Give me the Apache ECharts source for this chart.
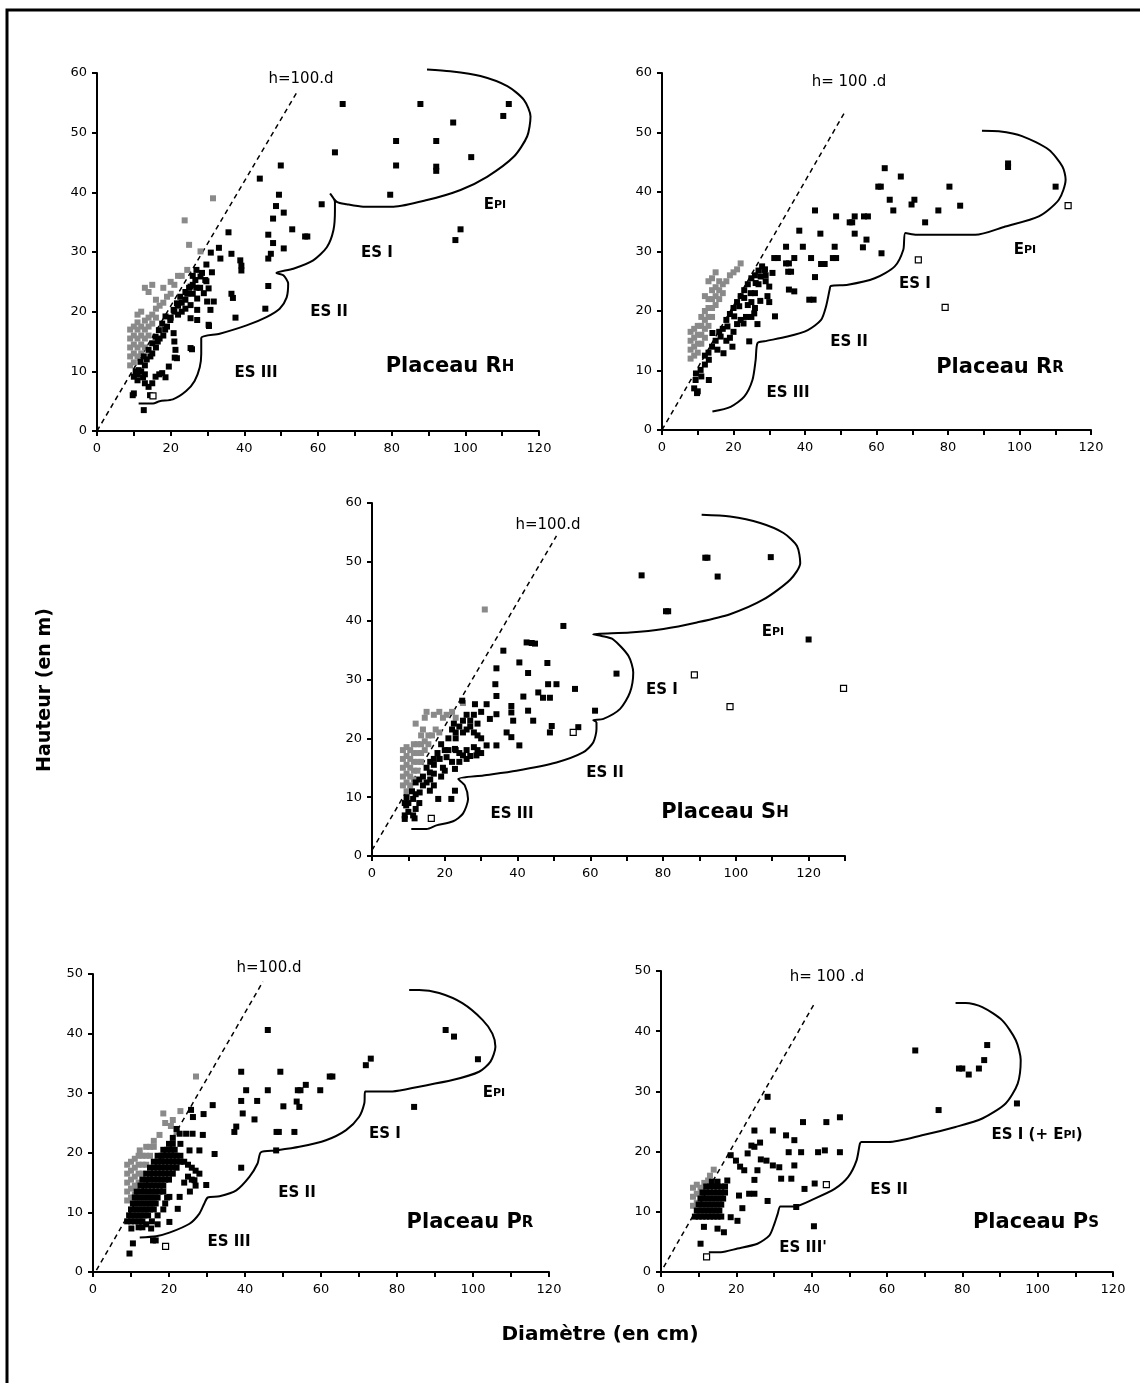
<!DOCTYPE html>
<html>
<head>
<meta charset="utf-8">
<script src="https://cdn.jsdelivr.net/npm/echarts@6/dist/echarts.min.js"></script>
<style>
  html, body { margin: 0; padding: 0; background: #fff; }
  #main { width: 1140px; height: 1383px; }
</style>
</head>
<body>
<div id="main"></div>
<script>
// --- Placeau RH ---
var rhBlack = [[66.7,54.8],[87.8,54.8],[111.8,54.8],[110.3,52.8],[96.7,51.7],[81.2,48.6],[92.1,48.6],[81.2,44.5],[92.1,44.3],[92.1,43.6],[101.6,45.9],[64.6,46.7],[49.9,44.5],[44.2,42.3],[79.6,39.6],[98.7,33.8],[97.3,32.0],[61.0,38.0],[49.4,39.6],[48.6,37.7],[50.7,36.6],[47.8,35.6],[53.0,33.8],[57.1,32.6],[56.5,32.6],[46.5,32.9],[47.8,31.5],[50.7,30.6],[47.2,29.7],[46.5,28.9],[46.5,24.3],[45.7,20.5],[35.7,33.3],[33.1,30.7],[33.5,28.9],[36.5,29.7],[38.9,28.6],[39.2,26.9],[39.2,27.7],[29.7,27.9],[30.9,29.9],[31.2,26.6],[29.7,25.1],[36.5,23.0],[36.9,22.3],[37.6,19.0],[30.4,17.6],[25.8,13.7],[21.1,12.3],
  [10.0,9.1],[11.3,10.2],[11.8,11.6],[12.7,12.5],[14.0,13.6],[15.0,14.7],[15.9,15.8],[16.8,16.9],[17.7,18.0],[18.6,19.2],[19.9,18.6],[20.8,20.3],[21.7,21.4],[22.6,22.5],[24.0,23.3],[25.4,24.2],[26.7,25.3],[28.1,25.9],[29.4,25.3],[30.3,23.9],[29.0,23.1],[27.2,22.2],[25.4,21.1],[27.2,20.3],[29.9,21.7],[31.7,21.7],[30.8,20.3],[27.2,18.6],[25.4,18.9],[30.3,17.8],
  [25.4,13.9],[20.8,16.4],[21.0,15.0],[21.3,13.6],[21.7,12.2],[19.5,10.8],[17.7,9.7],[15.9,9.1],[15.0,8.0],[14.0,7.4],[10.0,6.3],[12.7,3.5],[9.7,6.0],[14.4,6.0],[18.6,9.0],[16.9,9.5],
  [10.5,10.0],[11,9.5],[12,10],[13,11],[12.5,9],[13.5,12],[14.5,12.5],[15,13],[16,14],[16.5,15],[17,15.5],[18,16],[18.5,17],[19,17.5],[20,19],[21,20],[22,21],[23,21.5],[24,22],[24.5,23],[25,24],[26,24.5],[23,20],[22,19.5],[24,20.5],[26,23],[28,24],[27,24],[26,26],[28.5,26.5],[27,27],[11,8.5],[13,9.5],[13,8]];
var rhOpen = [[15.2,5.9]];
var rhGrey = [[9,11],[9,12.5],[9,14],[9,15.5],[9,17],[10,11.5],[10,13],[10,14.5],[10,16],[10,17.5],[11,12.5],[11,14],[11,15.5],[11,17],[11,18.2],[12,13],[12,14.5],[12,16],[12,17.5],[13,14],[13,15.5],[13,17],[13,18.5],[14,16],[14,17.5],[14,19],[15,18],[15,19.5],[16,19],[16,20.5],[17,21],[18,21.5],[19,22.5],[20,23],[13,24],[15,24.5],[14,23.3],[16,22],[18,24],[20,25],[21,24.5],[22,26],[23,26],[24.5,27],[25,31.2],[28.1,30.1],[23.8,35.3],[31.5,39],[12,20],[11,19.5]];
var rhBound = [[11.3,4.6],[15.2,4.6],[17,5],[20.6,5.3],[24.2,6.7],[26.5,8.4],[27.9,10.7],[28.3,12.9],[28.3,15.6],[33.3,16.3],[40.6,17.7],[46,19.1],[49.6,20.5],[51.5,22.4],[51.9,24.7],[50.6,26.1],[48.7,26.5],[53.3,27.2],[58.7,28.6],[62.4,30.8],[64.2,33.7],[64.6,37.0],[64.6,38.4],[63.3,39.8],[65.1,38.4],[67.8,38.0],[72.3,37.6],[80.5,37.6],[89.6,38.7],[98.7,40.4],[105.9,42.6],[113.2,46.0],[116.8,49.4],[117.7,52.7],[115.9,55.5],[111.4,57.8],[104.1,59.5],[95.9,60.3],[89.6,60.6]];
var rhDiag = [[0,0],[54.5,57]];

// --- Placeau RR ---
var rrBlack = [[96.8,44.8],[96.8,44.2],[110.1,40.9],[62.3,44.0],[66.8,42.6],[60.5,40.9],[61.2,40.9],[80.4,40.9],[63.7,38.7],[70.6,38.7],[69.8,37.9],[64.7,36.9],[77.3,36.9],[83.4,37.7],[73.6,34.9],[57.6,35.9],[56.5,35.9],[53.9,35.9],[52.5,34.9],[53.2,34.9],[48.7,35.9],[42.8,36.9],[38.4,33.5],[44.3,33.0],[53.9,33.0],[57.2,32.0],[56.2,30.7],[61.4,29.7],[48.3,30.8],[39.4,30.8],[34.7,30.8],[31.4,28.9],[32.4,28.9],[34.7,28.0],[35.5,28.0],[37.0,28.9],[41.7,28.9],[44.5,27.9],[45.5,27.9],[48.7,28.9],[47.8,28.9],[36.1,26.6],[35.3,26.6],[30.9,26.4],[28.8,27.0],[42.8,25.7],[35.5,23.6],[37.0,23.3],[41.2,21.9],[42.4,21.9],[31.6,19.1],[26.7,17.8],[22.8,17.9],[24.4,14.9],[19.7,14.0],[17.2,12.9],
  [9.8,6.2],[9.4,8.4],[10.8,10.1],[13.1,11.8],[15.5,13.5],[16.4,15.7],[18.3,17.4],[20.2,19.1],[21.6,20.8],[23,22.2],[24.8,23],[26.2,24.7],[27.6,25.8],[28.6,26.9],[30,24.1],[25.8,19.6],[13.1,8.4],[14.1,16.3],[9,7],[10,6.5],[9.5,9.5],[11,9],[12,11],[12,12.5],[13,13],[14,14],[15,15],[16,16.5],[17,17],[18,18.5],[19,19.5],[20,20.5],[21,21.5],[22,22.5],[23,23.5],[24,24.5],[25,25.5],[26,26],[27,26.8],[28,27.5],[29,26],[29,25],[27,24.5],[26,23],[25,21.5],[24,21],[26,20.5],[23.5,19],[25,19],[27.5,21.7],[29.5,22.5],[30,21.5],[20,16.5],[19,15.5],[18,15],[22,18.5],[21,17.8]];
var rrOpen = [[113.6,37.7],[71.7,28.6],[79.2,20.6]];
var rrGrey = [[8,12],[8,13.5],[8,15],[8,16.5],[9,12.5],[9,14],[9,15.5],[9,17],[10,13],[10,14.5],[10,16],[10,17.5],[11,14.5],[11,16],[11,17.5],[11,19],[12,15.5],[12,17],[12,18.5],[12,20],[13,17.5],[13,19],[13,20.5],[13,22],[14,19],[14,20.5],[14,22],[14,23.5],[15,21],[15,22.5],[15,24],[16,22],[16,23.5],[16,25],[17,23],[17,24.5],[18,25],[19,26],[20,26.5],[21,27],[12,22.5],[13,25],[14,25.5],[15,26.5],[22,28]];
var rrBound = [[14.1,3.1],[19.2,3.9],[23,5.6],[25.3,8.4],[26.2,11.8],[26.7,14.6],[28.6,14.9],[35.1,15.7],[40.8,16.8],[44.5,18.5],[45.9,20.8],[46.9,23.6],[47.2,24.2],[52,24.4],[59.5,25.5],[65.1,27.5],[67.5,30.3],[68.1,33.1],[71.2,32.8],[87.6,32.8],[96,34.2],[105.4,35.9],[111,38.7],[112.9,42.1],[112,44.3],[108.2,47.1],[100.7,49.4],[94.2,50.2],[89.5,50.3]];
var rrDiag = [[0,0],[51.1,53.4]];

// --- Placeau SH ---
var shBlack = [[91.6,50.7],[92.2,50.7],[109.6,50.8],[95,47.5],[74.1,47.7],[80.8,41.6],[81.4,41.6],[120,36.8],[52.6,39.1],[67.2,31.0],[55.8,28.4],[61.3,24.7],[56.7,21.9],[48.9,21.0],[49.4,22.1],[43.9,36.2],[42.5,36.3],[44.8,36.1],[36.1,34.9],[40.5,32.9],[48.2,32.8],[34.2,31.9],[42.9,31.1],[33.9,29.2],[48.4,29.2],[50.7,29.2],[34.2,27.2],[41.6,27.1],[45.7,27.8],[47.0,26.9],[48.9,26.9],[38.3,25.5],[42.9,24.7],[31.5,25.8],[28.3,25.8],[24.8,26.4],[38.3,24.4],[38.8,23.0],[44.3,23.0],[34.2,24.1],[32.4,23.3],[37,21.0],[38.3,20.2],[40.5,18.8],[34.2,18.8],[31.5,18.8],[28.7,17.1],[27,17],[25,17.1],[22.8,18.2],[20.5,16.8],[18.6,16.5],[22.8,14.8],[15.9,14.2],[15,12.5],[13.1,10.8],[11.3,9.7],[9.4,8.6],[9.0,6.9],[11.3,6.9],[15.9,11.1],[18.2,9.7],[21.8,9.7],[22.8,11.1],[9.0,6.3],[11.7,6.4],
  [19,19],[21,20],[22,21.5],[23,21],[24,22],[25,21],[26,21.5],[27,22],[28,21],[29,20.5],[30,20],[20,18],[21,18],[23,18],[24,17.5],[26,18],[28,18.5],[29,18],[30,17.5],[26,16.5],[24,16],[22,16],[19.5,15],[17,15.5],[16,13],[14,12],[12,10.5],[10,9],[9.5,10],[11,11],[12,12.5],[13,13],[14,13.5],[15,15],[16,16],[17,16.5],[18,17.5],[13,9],[10,7.5],[9,9],[12,8],[17,12],[19,13.5],[17,14],[20,14.5],[23,20],[25,23],[26,24],[27,23],[29,22.5],[30,24.5],[28,24],[22.5,22.5]];
var shOpen = [[88.6,30.8],[129.6,28.5],[98.4,25.4],[55.3,21.0],[16.3,6.4]];
var shGrey = [[8.5,12],[8.5,13.5],[8.5,15],[8.5,16.5],[8.5,18],[9.5,11],[9.5,12.5],[9.5,14],[9.5,15.5],[9.5,17],[9.5,18.5],[10.5,12],[10.5,13.5],[10.5,15],[10.5,16.5],[10.5,18],[11.5,13],[11.5,14.5],[11.5,16],[11.5,17.5],[11.5,19],[12.5,14.5],[12.5,16],[12.5,17.5],[12.5,19],[13.5,16],[13.5,17.5],[13.5,19],[13.5,20.5],[14.5,18],[14.5,19.5],[15.5,19],[15.5,20.5],[16.5,20.5],[17.5,21.5],[18.5,21],[12,22.5],[14,21.5],[14.5,23.5],[15,24.5],[17,24],[18.5,24.5],[19.5,23.5],[20.5,24],[22,24.5],[23,23.5],[25,26],[31,41.9]];
var shBound = [[10.8,4.6],[15,4.6],[17.7,5.2],[22.3,5.9],[25,7.2],[26.4,9.7],[25.5,12.0],[23.7,13.1],[30.6,13.7],[39.7,14.5],[50.7,15.9],[58,17.6],[60.8,19.3],[61.7,21.6],[61.7,22.7],[60.8,23.1],[63.6,23.3],[68.2,25.0],[70.9,27.8],[71.8,31.2],[70.5,34.0],[66.3,36.8],[63.1,37.4],[60.8,37.7],[70.9,38.0],[80.1,38.6],[89.3,39.7],[98.4,41.1],[107.6,43.6],[115,47.0],[117.7,49.8],[116.8,52.7],[113.1,54.9],[106.7,56.6],[98.4,57.7],[90.6,58.0]];
var shDiag = [[0,1],[50.7,54.4]];

// --- Placeau PR ---
var prBlack = [[46,40.6],[92.8,40.6],[95,39.5],[101.3,35.7],[73.1,35.8],[71.8,34.7],[62.3,32.8],[63,32.8],[59.8,30.5],[56,31.4],[53.9,30.5],[54.6,30.5],[46,30.5],[49.3,33.6],[39,33.6],[40.3,30.5],[39,28.7],[43.2,28.7],[50.1,27.8],[53.6,28.6],[54.3,27.7],[84.5,27.7],[39.4,26.6],[42.5,25.6],[37.7,24.4],[37.2,23.5],[48.3,23.5],[48.9,23.5],[53,23.5],[48.2,20.4],[39,17.5],[31.5,28],[32,19.8],[29.1,26.5],[26.3,26.0],[25.8,27.2],[29.8,14.6],[26.7,15.4],[25.5,13.5],[20.1,12.6],[22.8,12.6],[22.3,10.6],[20.1,8.4],[15.3,7.3],[10.1,7.3],[10.5,4.8],[9.6,3.1],[15.8,5.3],[16.5,5.3],
  [9,8.5],[10,8.5],[11,8.5],[12,8.5],[13,8.5],[9.5,9.5],[10.5,9.5],[11.5,9.5],[12.5,9.5],[13.5,9.5],[14.5,9.5],[10,10.5],[11,10.5],[12,10.5],[13,10.5],[14,10.5],[15,10.5],[16,10.5],[10.5,11.5],[11.5,11.5],[12.5,11.5],[13.5,11.5],[14.5,11.5],[15.5,11.5],[16.5,11.5],[11,12.5],[12,12.5],[13,12.5],[14,12.5],[15,12.5],[16,12.5],[17,12.5],[11.5,13.5],[12.5,13.5],[13.5,13.5],[14.5,13.5],[15.5,13.5],[16.5,13.5],[17.5,13.5],[18.5,13.5],[12.5,14.5],[13.5,14.5],[14.5,14.5],[15.5,14.5],[16.5,14.5],[17.5,14.5],[18.5,14.5],[13,15.5],[14,15.5],[15,15.5],[16,15.5],[17,15.5],[18,15.5],[19,15.5],[20,15.5],[14,16.5],[15,16.5],[16,16.5],[17,16.5],[18,16.5],[19,16.5],[20,16.5],[21,16.5],[15,17.5],[16,17.5],[17,17.5],[18,17.5],[19,17.5],[20,17.5],[21,17.5],[22,17.5],[16,18.5],[17,18.5],[18,18.5],[19,18.5],[20,18.5],[21,18.5],[22,18.5],[23,18.5],[24,18.5],[25,18],[26,17.5],[27,17],[28,16.5],[25,16],[24,15],[26,15.5],[27,14.5],[17,19.5],[18,19.5],[19,19.5],[20,19.5],[21,19.5],[22,19.5],[23,19.5],[18.5,20.5],[19.5,20.5],[20.5,20.5],[21.5,20.5],[20,21.5],[21,21.5],[22.8,23.2],[24.5,23.2],[26.2,23.2],[28.9,23],[25.4,20.4],[28,20.4],[23,21.5],[21,22.5],[22,24],[12,7.5],[14,8],[15.5,8.5],[17,9.5],[18.5,10.5],[19,11.5],[19.5,12.5],[17,8],[13,7.5]];
var prOpen = [[19.1,4.3]];
var prGrey = [[9,12],[9,13.5],[9,15],[9,16.5],[9,18],[10,12.5],[10,14],[10,15.5],[10,17],[10,18.5],[11,13],[11,14.5],[11,16],[11,17.5],[11,19],[12,15],[12,16.5],[12,18],[12,19.5],[13,16.5],[13,18],[13,19.5],[14,18],[14,19.5],[14,21],[15,19.5],[15,21],[16,21],[16,22],[12.3,20.4],[17.5,23],[18.5,26.6],[19,25],[20.5,24.5],[22,23.5],[21,25.5],[27.1,32.8],[23,27]];
var prBound = [[12.3,5.8],[16.6,6.0],[20.1,6.6],[25.4,8.1],[28,9.8],[29.3,11.5],[30.2,12.5],[33.3,12.7],[37.7,13.7],[41.2,16.0],[43.3,18.2],[44.2,20.1],[48.2,20.4],[54.3,21.0],[61.3,22.1],[66.6,23.8],[70,26.0],[71.4,28.3],[71.6,30.3],[78.8,30.3],[85.8,31.1],[94.6,32.2],[101.6,33.6],[104.6,35.3],[105.9,37.8],[105.1,40.0],[102.5,42.3],[97.2,45.1],[91.1,46.8],[85.8,47.3],[83.2,47.3]];
var prDiag = [[0.9,0.3],[44.7,48.7]];

// --- Placeau PS ---
var psBlack = [[67.5,36.8],[86.6,37.7],[85.8,35.2],[84.4,33.8],[79.1,33.8],[80,33.8],[81.7,32.8],[73.7,26.9],[94.5,28.0],[28.3,29.1],[47.5,25.7],[43.9,24.9],[37.7,24.9],[24.8,23.5],[29.7,23.5],[33.2,22.7],[35.4,21.9],[24.8,20.8],[33.9,19.9],[37.2,19.9],[41.7,19.9],[43.5,20.2],[47.5,19.9],[23,19.7],[26.5,18.7],[18.5,19.4],[19.9,18.5],[29.7,17.7],[31.4,17.4],[35.4,17.7],[22.1,16.9],[25.6,16.9],[31.9,15.5],[34.6,15.5],[24.8,15.3],[40.8,14.7],[38.1,13.8],[24.8,13.0],[23.4,13.0],[20.7,12.7],[28.3,11.8],[21.6,10.6],[35.9,10.8],[40.6,7.6],[18.5,9.1],[20.3,8.5],[11.4,7.5],[15,7.2],[16.7,6.6],[10.5,4.7],[17.6,15.2],[26.3,21.5],[24,21],[21,17.5],[28,18.5],
  [9,9.2],[10,9.2],[11,9.2],[12,9.2],[13,9.2],[14,9.2],[15,9.2],[16,9.2],[9.5,10.2],[10.5,10.2],[11.5,10.2],[12.5,10.2],[13.5,10.2],[14.5,10.2],[15.5,10.2],[10,11.2],[11,11.2],[12,11.2],[13,11.2],[14,11.2],[15,11.2],[16,11.2],[10.5,12.2],[11.5,12.2],[12.5,12.2],[13.5,12.2],[14.5,12.2],[15.5,12.2],[16.5,12.2],[11,13.2],[12,13.2],[13,13.2],[14,13.2],[15,13.2],[16,13.2],[17,13.2],[12,14.2],[13,14.2],[14,14.2],[15,14.2],[16,14.2],[17,14.2],[13.5,15],[15,15]];
var psOpen = [[43.9,14.5],[12.1,2.5]];
var psGrey = [[8.5,11],[8.5,12.5],[8.5,14],[9.5,11.5],[9.5,13],[9.5,14.5],[10.5,12.5],[10.5,14],[11.5,13.5],[11.5,14.8],[12.5,15.2],[13,16],[14,17]];
var psBound = [[12.7,3.3],[15.9,3.3],[20.3,3.9],[25.6,4.7],[28.8,6.1],[30.1,8.0],[31,9.7],[31.7,10.9],[35.4,10.9],[40.8,12.2],[46.1,13.8],[49.7,15.8],[51.9,18.5],[52.8,21.3],[53.2,21.6],[60.4,21.6],[69.3,22.7],[78.2,24.1],[85.3,25.5],[91.5,28.0],[94.7,31.3],[95.5,35.2],[94.2,38.5],[90.6,41.8],[85.3,44.0],[80.9,44.7],[78.2,44.7]];
var psDiag = [[0.7,0.8],[41,44.9]];

var xMaxList = [120, 120, 130, 120, 120];
var yMaxList = [60, 60, 60, 50, 50];

var panels = [
    { grid: {left: 97, top: 73, width: 442, height: 358}, black: rhBlack, open: rhOpen, grey: rhGrey, bound: rhBound, diag: rhDiag },
    { grid: {left: 662, top: 73, width: 429, height: 357}, black: rrBlack, open: rrOpen, grey: rrGrey, bound: rrBound, diag: rrDiag },
    { grid: {left: 372, top: 503, width: 473, height: 353}, black: shBlack, open: shOpen, grey: shGrey, bound: shBound, diag: shDiag },
    { grid: {left: 93, top: 974, width: 456, height: 298}, black: prBlack, open: prOpen, grey: prGrey, bound: prBound, diag: prDiag },
    { grid: {left: 661, top: 971, width: 452, height: 301}, black: psBlack, open: psOpen, grey: psGrey, bound: psBound, diag: psDiag }
];

var FONT = 'DejaVu Sans';
var grids = [], xAxes = [], yAxes = [], series = [];

for (var i = 0; i < panels.length; i++) {
    var p = panels[i];
    var g = p.grid;
    grids.push({ left: g.left, top: g.top, width: g.width, height: g.height, containLabel: false, outerBoundsMode: 'none' });
    xAxes.push({
        gridIndex: i, type: 'value', min: 0, max: xMaxList[i], interval: 10,
        splitLine: { show: false },
        axisLine: { onZero: false, lineStyle: { color: '#000', width: 2 } },
        axisTick: { length: 5, lineStyle: { color: '#000', width: 2 } },
        axisLabel: {
            color: '#000', fontFamily: FONT, fontSize: 13, margin: 11,
            formatter: function (v) { return v % 20 === 0 ? String(v) : ''; }
        }
    });
    yAxes.push({
        gridIndex: i, type: 'value', min: 0, max: yMaxList[i], interval: 10,
        splitLine: { show: false },
        axisLine: { onZero: false, lineStyle: { color: '#000', width: 2 } },
        axisTick: { length: 5, lineStyle: { color: '#000', width: 2 } },
        axisLabel: { color: '#000', fontFamily: FONT, fontSize: 13, margin: 10 }
    });
    series.push({
        type: 'scatter', xAxisIndex: i, yAxisIndex: i, data: p.grey,
        symbol: 'rect', symbolSize: 6, z: 2,
        itemStyle: { color: '#8a8a8a', opacity: 1 }
    });
    series.push({
        type: 'scatter', xAxisIndex: i, yAxisIndex: i, data: p.black,
        symbol: 'rect', symbolSize: 6, z: 3,
        itemStyle: { color: '#000', opacity: 1 }
    });
    series.push({
        type: 'scatter', xAxisIndex: i, yAxisIndex: i, data: p.open,
        symbol: 'rect', symbolSize: 6, z: 3,
        itemStyle: { color: '#fff', borderColor: '#000', borderWidth: 1.2, opacity: 1 }
    });
    series.push({
        type: 'line', xAxisIndex: i, yAxisIndex: i, data: p.bound,
        showSymbol: false, smooth: 0.25, clip: false, z: 4,
        lineStyle: { color: '#000', width: 2 }
    });
    series.push({
        type: 'line', xAxisIndex: i, yAxisIndex: i, data: p.diag,
        showSymbol: false, clip: false, z: 1,
        lineStyle: { color: '#000', width: 1.5, type: [5, 4] }
    });
}

function txt(x, y, s, size, bold, rich) {
    return {
        type: 'text', x: x, y: y, z: 10,
        style: {
            text: s, fill: '#000', fontFamily: FONT, fontSize: size,
            fontWeight: bold ? 'bold' : 'normal',
            align: 'center', verticalAlign: 'middle', rich: rich
        }
    };
}
var labRich = {
    a: { fontFamily: FONT, fontSize: 21, fontWeight: 'bold', fill: '#000' },
    b: { fontFamily: FONT, fontSize: 15, fontWeight: 'bold', fill: '#000' }
};
var epiRich = {
    a: { fontFamily: FONT, fontSize: 15, fontWeight: 'bold', fill: '#000' },
    b: { fontFamily: FONT, fontSize: 11, fontWeight: 'bold', fill: '#000' }
};

var graphics = [
    { type: 'rect', shape: { x: 7, y: 10, width: 1200, height: 1420 }, style: { fill: 'none', stroke: '#000', lineWidth: 3 }, z: 0 },
    // panel RH
    txt(301, 79, 'h=100.d', 15, false),
    txt(495, 205, '{a|E}{b|PI}', 15, true, epiRich),
    txt(377, 253, 'ES I', 15, true),
    txt(329, 312, 'ES II', 15, true),
    txt(256, 373, 'ES III', 15, true),
    txt(450, 367, '{a|Placeau R}{b|H}', 21, true, labRich),
    // panel RR
    txt(849, 82, 'h= 100 .d', 15, false),
    txt(1025, 250, '{a|E}{b|PI}', 15, true, epiRich),
    txt(915, 284, 'ES I', 15, true),
    txt(849, 342, 'ES II', 15, true),
    txt(788, 393, 'ES III', 15, true),
    txt(1000, 368, '{a|Placeau R}{b|R}', 21, true, labRich),
    // panel SH
    txt(548, 525, 'h=100.d', 15, false),
    txt(773, 632, '{a|E}{b|PI}', 15, true, epiRich),
    txt(662, 690, 'ES I', 15, true),
    txt(605, 773, 'ES II', 15, true),
    txt(512, 814, 'ES III', 15, true),
    txt(725, 813, '{a|Placeau S}{b|H}', 21, true, labRich),
    // panel PR
    txt(269, 968, 'h=100.d', 15, false),
    txt(494, 1093, '{a|E}{b|PI}', 15, true, epiRich),
    txt(385, 1134, 'ES I', 15, true),
    txt(297, 1193, 'ES II', 15, true),
    txt(229, 1242, 'ES III', 15, true),
    txt(470, 1223, '{a|Placeau P}{b|R}', 21, true, labRich),
    // panel PS
    txt(827, 977, 'h= 100 .d', 15, false),
    txt(1037, 1135, '{a|ES I (+ E}{b|PI}{a|)}', 15, true, epiRich),
    txt(889, 1190, 'ES II', 15, true),
    txt(803, 1248, "ES III'", 15, true),
    txt(1036, 1223, '{a|Placeau P}{b|S}', 21, true, labRich),
    // axis titles
    {
        type: 'text', x: 45, y: 690, rotation: Math.PI / 2, z: 10,
        style: { text: 'Hauteur (en m)', fill: '#000', fontFamily: FONT, fontSize: 19, fontWeight: 'bold', align: 'center', verticalAlign: 'middle' }
    },
    txt(600, 1335, 'Diamètre (en cm)', 20, true)
];

var myChart = echarts.init(document.getElementById('main'), null, { renderer: 'canvas' });
var option = {
    animation: false,
    backgroundColor: '#fff',
    grid: grids,
    xAxis: xAxes,
    yAxis: yAxes,
    series: series,
    graphic: graphics
};
myChart.setOption(option);
</script>
</body>
</html>
